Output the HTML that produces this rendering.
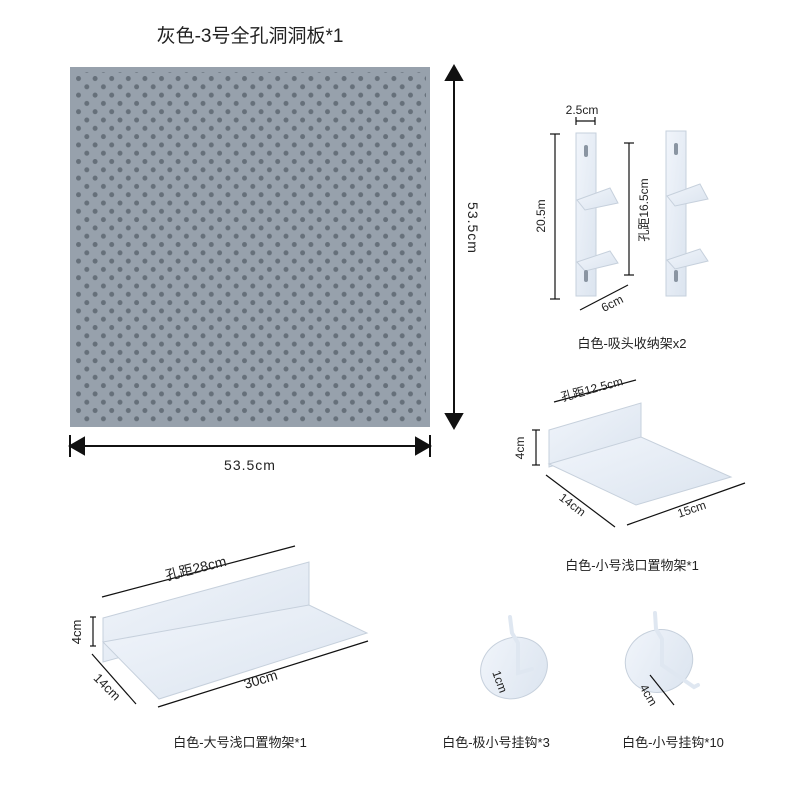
<!DOCTYPE html>
<html><head><meta charset="utf-8"><style>
html,body{margin:0;padding:0;background:#fff;}
svg{display:block;font-family:"Liberation Sans","Noto Sans CJK SC",sans-serif;}
</style></head><body>
<svg width="800" height="800" viewBox="0 0 800 800" xmlns="http://www.w3.org/2000/svg">
<defs>
<pattern id="holes" x="76" y="76" width="16.6" height="16.6" patternUnits="userSpaceOnUse">
<circle cx="2.5" cy="2.5" r="2.5" fill="#66707a"/>
<circle cx="10.8" cy="10.8" r="2.5" fill="#66707a"/>
</pattern>
<linearGradient id="sh" x1="0" y1="0" x2="1" y2="1"><stop offset="0" stop-color="#f1f5fb"/><stop offset="1" stop-color="#dbe4ef"/></linearGradient>
</defs>
<text x="250" y="42" font-size="19" text-anchor="middle" fill="#222">灰色-3号全孔洞洞板*1</text>
<rect x="70" y="67" width="360" height="360" fill="#97a1ac"/>
<rect x="74" y="72" width="352" height="350" fill="url(#holes)"/>
<g stroke="#111" stroke-width="2" fill="#111">
<line x1="454" y1="75" x2="454" y2="420"/>
<polygon points="446,80 462,80 454,66"/><polygon points="446,414 462,414 454,428"/>
<line x1="78" y1="446" x2="424" y2="446"/>
<line x1="70" y1="435" x2="70" y2="457"/><line x1="430" y1="435" x2="430" y2="457"/>
<polygon points="84,438 84,454 70,446"/><polygon points="416,438 416,454 430,446"/>
</g>
<text x="250" y="470" font-size="14" text-anchor="middle" fill="#222" letter-spacing="1">53.5cm</text>
<text transform="translate(468,228) rotate(90)" font-size="14" text-anchor="middle" fill="#222" letter-spacing="1">53.5cm</text>
<g stroke="#111" stroke-width="1.2" fill="none">
<line x1="555" y1="134" x2="555" y2="299"/><line x1="550" y1="134" x2="560" y2="134"/><line x1="550" y1="299" x2="560" y2="299"/>
<line x1="576" y1="121" x2="595" y2="121"/><line x1="576" y1="117" x2="576" y2="125"/><line x1="595" y1="117" x2="595" y2="125"/>
<line x1="629" y1="143" x2="629" y2="275"/><line x1="624" y1="143" x2="634" y2="143"/><line x1="624" y1="275" x2="634" y2="275"/>
<line x1="580" y1="310" x2="628" y2="285"/>
</g>
<g fill="url(#sh)" stroke="#c6d0dc" stroke-width="1">
<path d="M576,133 h20 v163 h-20 z"/><path d="M666,131 h20 v165 h-20 z"/>
<path d="M577,200 l8,10 l33,-7 l-8,-15 z"/><path d="M577,262 l8,9 l33,-8 l-8,-12 z"/>
<path d="M667,196 l8,10 l33,-7 l-8,-15 z"/><path d="M667,260 l8,9 l33,-8 l-8,-12 z"/>
</g>
<g fill="#8a95a2"><rect x="584" y="145" width="4" height="12" rx="2"/><rect x="584" y="270" width="4" height="12" rx="2"/><rect x="674" y="143" width="4" height="12" rx="2"/><rect x="674" y="270" width="4" height="12" rx="2"/></g>
<text x="582" y="114" font-size="12" text-anchor="middle" fill="#222">2.5cm</text>
<text transform="translate(545,216) rotate(-90)" font-size="12" text-anchor="middle" fill="#222">20.5m</text>
<text transform="translate(648,210) rotate(-90)" font-size="12" text-anchor="middle" fill="#222">孔距16.5cm</text>
<text transform="translate(614,307) rotate(-27)" font-size="12" text-anchor="middle" fill="#222">6cm</text>
<text x="632" y="348" font-size="13" text-anchor="middle" fill="#222">白色-吸头收纳架x2</text>
<g fill="url(#sh)" stroke="#c6d0dc">
<path d="M549,430 l92,-27 l0,37 l-92,27 z"/>
<path d="M549,464 l92,-27 l90,40 l-95,28 z"/>
</g>
<g stroke="#111" stroke-width="1.2">
<line x1="554" y1="402" x2="636" y2="380"/>
<line x1="536" y1="430" x2="536" y2="465"/><line x1="532" y1="430" x2="540" y2="430"/><line x1="532" y1="465" x2="540" y2="465"/>
<line x1="546" y1="475" x2="615" y2="527"/>
<line x1="627" y1="525" x2="745" y2="483"/>
</g>
<text transform="translate(593,393) rotate(-15)" font-size="12" text-anchor="middle" fill="#222">孔距12.5cm</text>
<text transform="translate(524,448) rotate(-90)" font-size="12" text-anchor="middle" fill="#222">4cm</text>
<text transform="translate(570,508) rotate(37)" font-size="12" text-anchor="middle" fill="#222">14cm</text>
<text transform="translate(693,513) rotate(-19)" font-size="12" text-anchor="middle" fill="#222">15cm</text>
<text x="632" y="570" font-size="13" text-anchor="middle" fill="#222">白色-小号浅口置物架*1</text>
<g fill="url(#sh)" stroke="#c6d0dc">
<path d="M103,618 l206,-56 l0,43 l-206,57 z"/>
<path d="M103,642 l206,-37 l58,28 l-208,66 z"/>
</g>
<g stroke="#111" stroke-width="1.2">
<line x1="102" y1="597" x2="295" y2="546"/>
<line x1="93" y1="617" x2="93" y2="646"/><line x1="90" y1="617" x2="96" y2="617"/><line x1="90" y1="646" x2="96" y2="646"/>
<line x1="92" y1="654" x2="136" y2="704"/>
<line x1="158" y1="707" x2="368" y2="641"/>
</g>
<text transform="translate(197,573) rotate(-14)" font-size="14" text-anchor="middle" fill="#222">孔距28cm</text>
<text transform="translate(81,632) rotate(-90)" font-size="13" text-anchor="middle" fill="#222">4cm</text>
<text transform="translate(104,690) rotate(45)" font-size="13" text-anchor="middle" fill="#222">14cm</text>
<text transform="translate(262,684) rotate(-17)" font-size="14" text-anchor="middle" fill="#222">30cm</text>
<text x="240" y="747" font-size="13" text-anchor="middle" fill="#222">白色-大号浅口置物架*1</text>
<g fill="url(#sh)" stroke="#c6d0dc">
<ellipse cx="514" cy="668" rx="34" ry="30" transform="rotate(-25 514 668)"/>
<ellipse cx="659" cy="661" rx="34" ry="31" transform="rotate(-20 659 661)"/>
</g>
<g stroke="#dfe7f1" stroke-width="4" fill="none" stroke-linecap="round">
<path d="M510,617 l2,16 l6,10 v30 l14,-4"/>
<path d="M655,613 l1,16 l6,10 v26 l32,22 l4,-2"/>
</g>
<text transform="translate(496,683) rotate(70)" font-size="12" text-anchor="middle" fill="#222">1cm</text>
<line x1="650" y1="675" x2="674" y2="705" stroke="#111" stroke-width="1.2"/>
<text transform="translate(645,697) rotate(60)" font-size="12" text-anchor="middle" fill="#222">4cm</text>
<text x="496" y="747" font-size="13" text-anchor="middle" fill="#222">白色-极小号挂钩*3</text>
<text x="673" y="747" font-size="13" text-anchor="middle" fill="#222">白色-小号挂钩*10</text>
</svg>
</body></html>
